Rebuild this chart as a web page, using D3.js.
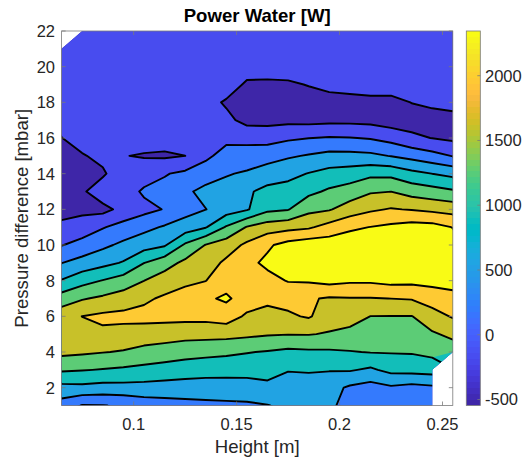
<!DOCTYPE html>
<html><head><meta charset="utf-8">
<script src="https://cdn.jsdelivr.net/npm/d3@7/dist/d3.min.js"></script>
<style>
body{margin:0;background:#fff}
svg{display:block}
text{font-family:"Liberation Sans",Arial,Helvetica,sans-serif}
</style>
</head><body>
<svg id="chart" width="522" height="461"></svg>
<script>
// ---- data ----
const heights = [0.065,0.075,0.085,0.095,0.105,0.115,0.125,0.135,0.145,0.155,0.165,0.175,0.185,0.195,0.205,0.215,0.225,0.235,0.245,0.255];
const pressures = [1,2,3,4,5,6,7,8,9,10,11,12,13,14,15,16,17,18,19,20,21,22];
// power water [W], one row per pressure difference (null = no measurement)
const powerP01 = [379,159,166,213,332,383,423,451,466,480,527,610,647,574,470,285,285,321,321,null];
const powerP02 = [788,809,769,780,773,755,741,737,744,755,809,737,755,665,484,394,488,419,470,null];
const powerP03 = [1308,1279,1243,1203,1163,1116,1066,1033,1022,1019,1033,918,929,921,932,842,1001,1022,1055,null];
const powerP04 = [1713,1677,1637,1597,1510,1456,1402,1366,1330,1279,1236,1178,1203,1210,1243,1275,1283,1290,1355,1442];
const powerP05 = [1857,1875,1912,1861,1821,1789,1749,1742,1734,1698,1655,1633,1640,1593,1528,1445,1449,1449,1579,1702];
const powerP06 = [1839,1987,2056,2074,2092,2092,2092,2092,2165,1926,1868,1930,2020,1792,1760,1619,1615,1612,1836,2016];
const powerP07 = [1434,1593,1687,1796,1922,2038,2128,2291,2399,2183,2063,2103,2020,1948,1966,1966,1987,2009,2150,2251];
const powerP08 = [921,1135,1275,1420,1619,1789,1912,1977,2201,2237,2240,2363,2381,2454,2399,2399,2454,2436,2454,2454];
const powerP09 = [531,672,795,929,1254,1478,1702,1810,2056,2255,2417,2490,2598,2562,2562,2562,2526,2526,2544,2526];
const powerP10 = [162,296,462,614,748,856,1315,1637,1803,2056,2291,2472,2562,2544,2562,2580,2562,2544,2544,2508];
const powerP11 = [-91,-15,152,303,441,574,701,874,1297,1644,1807,1872,1933,2118,2280,2352,2417,2490,2472,2334];
const powerP12 = [-329,-275,-293,-76,68,195,404,531,719,863,1178,1239,1528,1593,1792,1930,2009,1962,1904,1846];
const powerP13 = [-383,-239,32,-4,231,285,466,650,661,845,1008,1037,1174,1315,1420,1586,1619,1481,1402,1312];
const powerP14 = [-401,-329,-239,61,3,152,249,354,513,578,701,798,914,1022,1073,1174,1163,1004,896,802];
const powerP15 = [-347,-214,-87,-174,-210,-239,-186,105,303,354,404,495,567,647,643,614,524,419,296,162];
const powerP16 = [-192,-22,-4,-4,-40,-22,-4,-4,97,58,39,123,170,202,191,152,50,-116,-192,-257];
const powerP17 = [-58,-4,14,14,-4,-4,-4,-22,-98,-293,-293,-275,-293,-275,-275,-293,-365,-329,-329,-293];
const powerP18 = [-22,14,32,32,14,14,14,-58,-228,-329,-347,-365,-347,-329,-311,-311,-293,-177,-112,-76];
const powerP19 = [-4,32,32,32,32,32,32,-4,-4,-239,-257,-239,-167,-76,-40,32,-4,-4,-4,-4];
const powerP20 = [-4,32,32,32,32,32,32,32,32,-22,-4,-4,-4,-4,14,32,32,32,32,32];
const powerP21 = [-4,32,32,32,32,32,32,32,32,32,32,32,32,32,32,32,32,32,32,32];
const powerP22 = [null,32,32,32,32,32,32,32,32,32,32,32,32,32,32,32,32,32,32,32];
const powerRows = [powerP01,powerP02,powerP03,powerP04,powerP05,powerP06,powerP07,powerP08,powerP09,powerP10,powerP11,
  powerP12,powerP13,powerP14,powerP15,powerP16,powerP17,powerP18,powerP19,powerP20,powerP21,powerP22];
const colorLimits = [-546, 2345];
const contourLevels = [-184.6, 176.8, 538.2, 899.6, 1261.0, 1622.4, 1983.8, 2345.2];
const xTicks = [0.1, 0.15, 0.2, 0.25];
const yTicks = [2,4,6,8,10,12,14,16,18,20,22];
const cbarTicks = [-500, 0, 500, 1000, 1500, 2000];

// parula colormap (64 entries)
const parula = [[0.2422,0.1504,0.6603],[0.2504,0.1650,0.7076],[0.2578,0.1818,0.7511],[0.2647,0.1978,0.7952],[0.2706,0.2147,0.8364],[0.2751,0.2342,0.8710],[0.2783,0.2559,0.8991],[0.2803,0.2782,0.9221],[0.2813,0.3006,0.9414],[0.2810,0.3228,0.9579],[0.2795,0.3447,0.9717],[0.2760,0.3667,0.9829],[0.2699,0.3892,0.9906],[0.2602,0.4123,0.9952],[0.2440,0.4358,0.9988],[0.2206,0.4603,0.9973],[0.1963,0.4847,0.9892],[0.1834,0.5074,0.9798],[0.1786,0.5289,0.9682],[0.1764,0.5499,0.9520],[0.1687,0.5703,0.9359],[0.1540,0.5902,0.9218],[0.1460,0.6091,0.9079],[0.1380,0.6276,0.8973],[0.1248,0.6459,0.8883],[0.1113,0.6635,0.8763],[0.0952,0.6798,0.8598],[0.0689,0.6948,0.8394],[0.0297,0.7082,0.8163],[0.0036,0.7203,0.7917],[0.0067,0.7312,0.7660],[0.0433,0.7411,0.7394],[0.0964,0.7500,0.7120],[0.1408,0.7584,0.6842],[0.1717,0.7670,0.6554],[0.1938,0.7758,0.6251],[0.2161,0.7843,0.5923],[0.2470,0.7918,0.5567],[0.2906,0.7973,0.5188],[0.3406,0.8008,0.4789],[0.3909,0.8029,0.4354],[0.4456,0.8024,0.3909],[0.5044,0.7993,0.3480],[0.5616,0.7942,0.3045],[0.6174,0.7876,0.2612],[0.6720,0.7793,0.2227],[0.7242,0.7698,0.1910],[0.7738,0.7598,0.1646],[0.8203,0.7498,0.1535],[0.8634,0.7406,0.1596],[0.9035,0.7330,0.1774],[0.9393,0.7288,0.2100],[0.9728,0.7298,0.2394],[0.9956,0.7434,0.2371],[0.9970,0.7659,0.2199],[0.9952,0.7893,0.2028],[0.9892,0.8136,0.1885],[0.9786,0.8386,0.1766],[0.9676,0.8639,0.1643],[0.9610,0.8890,0.1537],[0.9597,0.9135,0.1423],[0.9628,0.9373,0.1265],[0.9691,0.9606,0.1064],[0.9769,0.9839,0.0805]];
function parulaColor(t){
  t = Math.max(0, Math.min(1, t));
  const f = t * (parula.length - 1), i = Math.min(parula.length - 2, Math.floor(f)), r = f - i;
  const c = parula[i].map((v,k) => v + (parula[i+1][k] - v) * r);
  return d3.rgb(c[0]*255, c[1]*255, c[2]*255).formatHex();
}

// ---- layout ----
const svg = d3.select("#chart");
const plot = {left: 61.6, right: 452.8, top: 31, bottom: 405.5};
const xs = d3.scaleLinear().domain([heights[0], heights[heights.length-1]]).range([plot.left, plot.right]);
const ys = d3.scaleLinear().domain([pressures[0], pressures[pressures.length-1]]).range([plot.bottom, plot.top]);
const cs = d3.scaleLinear().domain(colorLimits).range([0, 1]);
const nx = heights.length, ny = pressures.length;

// grid coordinates -> pixel (grid value i sits at i+0.5)
const gx = d3.scaleLinear().domain([0.5, nx - 0.5]).range([xs(heights[0]), xs(heights[nx-1])]);
const gy = d3.scaleLinear().domain([0.5, ny - 0.5]).range([ys(pressures[0]), ys(pressures[ny-1])]);
const path = d3.geoPath(d3.geoTransform({point(x, y){ this.stream.point(gx(x), gy(y)); }}));

const grid = powerRows.flat().map(v => v == null ? NaN : v);
// grid used for the lines: missing points filled from neighbours (lines get clipped to valid area)
let lineGrid = grid.slice();
while (lineGrid.some(v => isNaN(v))) {
  const next = lineGrid.slice();
  for (let j = 0; j < ny; j++) for (let i = 0; i < nx; i++) {
    const k = j*nx + i;
    if (!isNaN(lineGrid[k])) continue;
    const nb = [];
    if (i > 0) nb.push(lineGrid[k-1]);
    if (i < nx-1) nb.push(lineGrid[k+1]);
    if (j > 0) nb.push(lineGrid[k-nx]);
    if (j < ny-1) nb.push(lineGrid[k+nx]);
    const ok = nb.filter(v => !isNaN(v));
    if (ok.length) next[k] = d3.mean(ok);
  }
  lineGrid = next;
}

const contours = d3.contours().size([nx, ny]);
const defs = svg.append("defs");
defs.append("clipPath").attr("id", "plotClip").append("rect")
  .attr("x", plot.left).attr("y", plot.top)
  .attr("width", plot.right - plot.left).attr("height", plot.bottom - plot.top);
const validRegion = contours.contour(grid, -1e9);
defs.append("clipPath").attr("id", "validClip").append("path").attr("d", path(validRegion));

// filled bands
const bandThresholds = [-1e9].concat(contourLevels);
const bandColors = [colorLimits[0]].concat(contourLevels).map(v => parulaColor(cs(v)));
const fillG = svg.append("g").attr("clip-path", "url(#plotClip)");
bandThresholds.forEach((t, i) => {
  fillG.append("path").attr("d", path(contours.contour(grid, t)))
    .attr("fill", bandColors[i]).attr("stroke", "none");
});

// contour lines
const lineG = svg.append("g").attr("clip-path", "url(#plotClip)")
  .append("g").attr("clip-path", "url(#validClip)");
contourLevels.forEach(t => {
  lineG.append("path").attr("d", path(contours.contour(lineGrid, t)))
    .attr("fill", "none").attr("stroke", "#000").attr("stroke-width", 1.9)
    .attr("stroke-linejoin", "round");
});

// axes box and ticks
const axisColor = "#7a7a7a";
svg.append("rect").attr("x", plot.left).attr("y", plot.top)
  .attr("width", plot.right - plot.left).attr("height", plot.bottom - plot.top)
  .attr("fill", "none").attr("stroke", axisColor).attr("stroke-width", 0.8);
const tl = 4;
xTicks.forEach(t => {
  const x = xs(t);
  svg.append("line").attr("x1", x).attr("x2", x).attr("y1", plot.bottom).attr("y2", plot.bottom - tl).attr("stroke", axisColor).attr("stroke-width", 0.8);
  svg.append("line").attr("x1", x).attr("x2", x).attr("y1", plot.top).attr("y2", plot.top + tl).attr("stroke", axisColor).attr("stroke-width", 0.8);
  svg.append("text").attr("x", x).attr("y", 430).attr("text-anchor", "middle")
    .attr("font-size", 16.5).attr("fill", "#262626").text(String(t));
});
yTicks.forEach(t => {
  const y = ys(t);
  svg.append("line").attr("x1", plot.left).attr("x2", plot.left + tl).attr("y1", y).attr("y2", y).attr("stroke", axisColor).attr("stroke-width", 0.8);
  svg.append("line").attr("x1", plot.right).attr("x2", plot.right - tl).attr("y1", y).attr("y2", y).attr("stroke", axisColor).attr("stroke-width", 0.8);
  svg.append("text").attr("x", 55).attr("y", y).attr("dy", "0.36em").attr("text-anchor", "end")
    .attr("font-size", 16.5).attr("fill", "#262626").text(String(t));
});

// labels
svg.append("text").attr("x", (plot.left + plot.right)/2).attr("y", 22).attr("text-anchor", "middle")
  .attr("font-size", 18.6).attr("font-weight", "bold").attr("fill", "#000").text("Power Water [W]");
svg.append("text").attr("x", (plot.left + plot.right)/2).attr("y", 452.5).attr("text-anchor", "middle")
  .attr("font-size", 18.6).attr("fill", "#262626").text("Height [m]");
svg.append("text").attr("transform", `translate(28,${(plot.top + plot.bottom)/2}) rotate(-90)`)
  .attr("text-anchor", "middle").attr("font-size", 18.6).attr("fill", "#262626").text("Pressure difference [mbar]");

// colorbar
const cb = {x: 466.3, w: 14, top: plot.top, bottom: plot.bottom};
const cbScale = d3.scaleLinear().domain(colorLimits).range([cb.bottom, cb.top]);
const grad = defs.append("linearGradient").attr("id", "cbGrad")
  .attr("x1", 0).attr("y1", 1).attr("x2", 0).attr("y2", 0);
parula.forEach((c, i) => {
  const col = d3.rgb(c[0]*255, c[1]*255, c[2]*255).formatHex();
  grad.append("stop").attr("offset", i/parula.length).attr("stop-color", col);
  grad.append("stop").attr("offset", (i+1)/parula.length).attr("stop-color", col);
});
svg.append("rect").attr("x", cb.x).attr("y", cb.top).attr("width", cb.w).attr("height", cb.bottom - cb.top)
  .attr("fill", "url(#cbGrad)").attr("stroke", axisColor).attr("stroke-width", 0.8);
cbarTicks.forEach(t => {
  const y = cbScale(t);
  svg.append("line").attr("x1", cb.x + cb.w).attr("x2", cb.x + cb.w - 3).attr("y1", y).attr("y2", y)
    .attr("stroke", axisColor).attr("stroke-width", 0.8);
  svg.append("text").attr("x", 485).attr("y", y).attr("dy", "0.36em").attr("text-anchor", "start")
    .attr("font-size", 16.5).attr("fill", "#262626").text(String(t));
});
</script>
</body></html>
